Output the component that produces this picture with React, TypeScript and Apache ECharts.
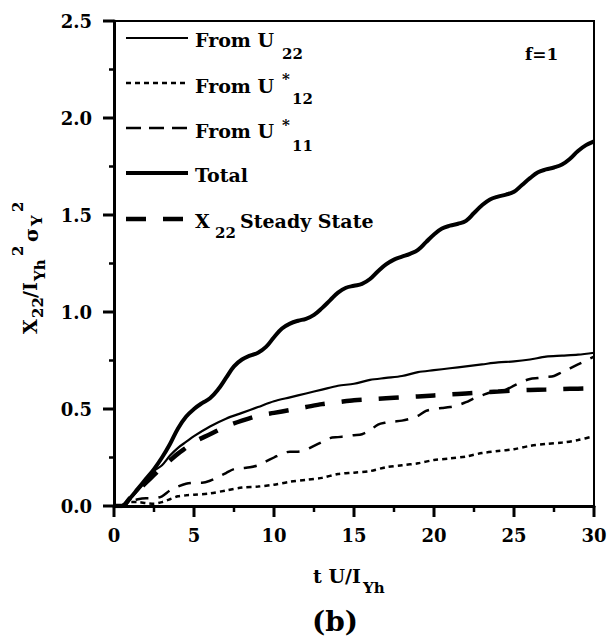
import React, { useEffect, useRef } from "react";
import * as echarts from "echarts";

const tFine = [0,0.5,1,1.5,2,2.5,3,3.5,4,4.5,5,5.5,6,6.5,7,7.5,8,8.5,9,9.5,10,10.5,11,11.5,12,12.5,13,13.5,14,14.5,15,15.5,16,16.5,17,17.5,18,18.5,19,19.5,20,20.5,21,21.5,22,22.5,23,23.5,24,24.5,25,25.5,26,26.5,27,27.5,28,28.5,29,29.5,30];
const tCoarse = [0,0.5,1,1.5,2,2.5,3,3.5,4,4.5,5,6,7,8,9,10,11,12,13,14,15,16,17,18,19,20,21,22,23,24,25,26,27,28,29,30];

const totalVals = [0,0,0.04,0.09,0.14,0.19,0.25,0.32,0.40,0.46,0.50,0.53,0.555,0.60,0.66,0.72,0.755,0.775,0.79,0.82,0.87,0.915,0.94,0.955,0.965,0.985,1.02,1.06,1.10,1.125,1.135,1.145,1.17,1.21,1.245,1.27,1.285,1.30,1.32,1.36,1.40,1.43,1.445,1.455,1.47,1.51,1.55,1.58,1.595,1.605,1.62,1.655,1.69,1.72,1.735,1.745,1.76,1.79,1.83,1.86,1.88];
const u11Vals = [0,0,0.02,0.035,0.04,0.04,0.05,0.08,0.10,0.115,0.12,0.12,0.13,0.15,0.17,0.19,0.195,0.20,0.21,0.23,0.25,0.27,0.28,0.28,0.29,0.31,0.33,0.35,0.355,0.36,0.365,0.37,0.39,0.42,0.43,0.435,0.44,0.45,0.465,0.49,0.50,0.505,0.51,0.52,0.535,0.555,0.57,0.585,0.59,0.60,0.62,0.64,0.655,0.66,0.665,0.67,0.69,0.71,0.73,0.75,0.77];
const u22Vals = [0,0,0.04,0.08,0.13,0.18,0.21,0.26,0.30,0.33,0.36,0.41,0.45,0.48,0.51,0.54,0.56,0.58,0.60,0.62,0.63,0.65,0.66,0.67,0.69,0.70,0.71,0.72,0.73,0.74,0.745,0.755,0.77,0.775,0.78,0.79];
const u12Vals = [0,0.005,0.02,0.02,0.015,0.012,0.02,0.035,0.05,0.055,0.058,0.065,0.08,0.095,0.10,0.11,0.125,0.135,0.145,0.165,0.172,0.18,0.20,0.21,0.22,0.237,0.245,0.255,0.273,0.283,0.293,0.31,0.32,0.327,0.34,0.36];
const steadyVals = [0,0,0.04,0.08,0.12,0.16,0.20,0.235,0.27,0.30,0.33,0.37,0.41,0.44,0.465,0.48,0.495,0.51,0.525,0.535,0.545,0.55,0.555,0.56,0.565,0.57,0.575,0.58,0.585,0.59,0.595,0.598,0.60,0.603,0.605,0.607];

const xTicks = [0, 5, 10, 15, 20, 25, 30];
const xMinorTicks = [2.5, 7.5, 12.5, 17.5, 22.5, 27.5];
const yTicks = [0, 0.5, 1.0, 1.5, 2.0, 2.5];
const yMinorTicks = [0.25, 0.75, 1.25, 1.75, 2.25];

const FONT = "DejaVu Serif";
const GRID = { left: 114, right: 22, top: 21, bottom: 135 };
const W = 616;
const H = 641;
const X_MIN = 0, X_MAX = 30, Y_MIN = 0, Y_MAX = 2.5;

function pairs(t: number[], v: number[]) {
  return t.map((x, i) => [x, v[i]]);
}

function txt(text: string, x: number, y: number, size: number) {
  return {
    type: "text",
    x,
    y,
    style: {
      text,
      font: `bold ${size}px "${FONT}"`,
      fill: "#000",
      align: "left",
      verticalAlign: "middle",
    },
  };
}

function rtxt(text: string, x: number, y: number, size: number) {
  return {
    type: "text",
    x,
    y,
    rotation: Math.PI / 2,
    style: {
      text,
      font: `bold ${size}px "${FONT}"`,
      fill: "#000",
      align: "left",
      verticalAlign: "middle",
    },
  };
}

function legLine(y: number, width: number, dash: any) {
  return {
    type: "line",
    shape: { x1: 126, y1: y, x2: 188, y2: y },
    style: { stroke: "#000", lineWidth: width, lineDash: dash },
  };
}

function seg(x1: number, y1: number, x2: number, y2: number, w: number) {
  return { type: "line", z: 10, shape: { x1, y1, x2, y2 }, style: { stroke: "#000", lineWidth: w } };
}

export default function App() {
  const ref = useRef<HTMLDivElement>(null);
  useEffect(() => {
    if (!ref.current) return;
    const chart = echarts.init(ref.current, null, { renderer: "svg" });
    const axisLabel = { color: "#000", fontFamily: FONT, fontWeight: "bold", fontSize: 18 };
    const option: any = {
      animation: false,
      backgroundColor: "#fff",
      grid: { ...GRID, show: true, borderColor: "#000", borderWidth: 2, backgroundColor: "transparent" },
      xAxis: {
        type: "value",
        min: X_MIN,
        max: X_MAX,
        interval: 5,
        axisLine: { show: true, onZero: false, lineStyle: { color: "#000", width: 3 } },
        axisTick: { show: false },
        splitLine: { show: false },
        axisLabel: { ...axisLabel, margin: 20, formatter: (v: number) => (xTicks.includes(v) ? String(v) : "") },
      },
      yAxis: {
        type: "value",
        min: Y_MIN,
        max: Y_MAX,
        interval: 0.5,
        axisLine: { show: true, onZero: false, lineStyle: { color: "#000", width: 3 } },
        axisTick: { show: false },
        splitLine: { show: false },
        axisLabel: { ...axisLabel, margin: 22, formatter: (v: number) => (yTicks.includes(v) ? v.toFixed(1) : "") },
      },
      series: [
        {
          name: "From U22", type: "line", data: pairs(tCoarse, u22Vals), showSymbol: false, smooth: 0.3,
          lineStyle: { color: "#000", width: 2.2 }, z: 3,
        },
        {
          name: "From U*12", type: "line", data: pairs(tCoarse, u12Vals), showSymbol: false, smooth: 0.3,
          lineStyle: { color: "#000", width: 2.5, type: [5, 4] }, z: 3,
        },
        {
          name: "From U*11", type: "line", data: pairs(tFine, u11Vals), showSymbol: false, smooth: 0.3,
          lineStyle: { color: "#000", width: 2.5, type: [13, 10] }, z: 3,
        },
        {
          name: "Total", type: "line", data: pairs(tFine, totalVals), showSymbol: false, smooth: 0.4,
          lineStyle: { color: "#000", width: 4 }, z: 4,
        },
        {
          name: "X22 Steady State", type: "line", data: pairs(tCoarse, steadyVals), showSymbol: false, smooth: 0.3,
          lineStyle: { color: "#000", width: 4.5, type: [20, 17] }, z: 3,
        },
      ],
    };
    chart.setOption(option);

    const plotW = W - GRID.left - GRID.right;
    const plotH = H - GRID.top - GRID.bottom;
    const xPx = (v: number) => {
      const r = chart.convertToPixel({ xAxisIndex: 0 } as any, v) as any;
      return typeof r === "number" && isFinite(r) ? r : GRID.left + ((v - X_MIN) / (X_MAX - X_MIN)) * plotW;
    };
    const yPx = (v: number) => {
      const r = chart.convertToPixel({ yAxisIndex: 0 } as any, v) as any;
      return typeof r === "number" && isFinite(r) ? r : GRID.top + plotH - ((v - Y_MIN) / (Y_MAX - Y_MIN)) * plotH;
    };
    const x0 = xPx(X_MIN);
    const y0 = yPx(Y_MIN);
    const ticks: any[] = [];
    xTicks.forEach((v) => { const x = xPx(v); ticks.push(seg(x, y0, x, y0 + 11, 3)); });
    xMinorTicks.forEach((v) => { const x = xPx(v); ticks.push(seg(x, y0, x, y0 + 6, 2.5)); });
    yTicks.forEach((v) => { const y = yPx(v); ticks.push(seg(x0 - 11, y, x0, y, 3)); });
    yMinorTicks.forEach((v) => { const y = yPx(v); ticks.push(seg(x0 - 5, y, x0, y, 2.5)); });

    chart.setOption({
      graphic: [
        ...ticks,
        legLine(38, 2.2, null),
        legLine(83, 2.5, [5, 4]),
        legLine(128, 2.5, [15, 8]),
        legLine(173, 4, null),
        legLine(219, 4.5, [20, 17]),
        txt("From U", 195, 40, 19),
        txt("22", 282, 54, 15),
        txt("From U", 195, 86, 19),
        txt("*", 282, 79, 15),
        txt("12", 292, 99, 15),
        txt("From U", 195, 131, 19),
        txt("*", 282, 125, 15),
        txt("11", 292, 146, 15),
        txt("Total", 195, 175, 19),
        txt("X", 195, 221, 19),
        txt("22", 215, 233, 15),
        txt("Steady State", 240, 221, 19),
        txt("f=1", 525, 54, 17),
        txt("t U/I", 313, 576, 19),
        txt("Yh", 363, 588, 15),
        txt("(b)", 312, 621, 28),
        rtxt("X", 30, 334, 19),
        rtxt("22", 38, 318, 15),
        rtxt("/I", 30, 298, 19),
        rtxt("Yh", 40, 281, 15),
        rtxt("2", 18, 256, 15),
        rtxt("σ", 31, 242, 19),
        rtxt("Y", 37, 226, 15),
        rtxt("2", 18, 212, 15),
      ],
    });
    return () => chart.dispose();
  }, []);
  return (
    <div
      ref={ref}
      style={{ position: "fixed", left: 0, top: 0, width: 616, height: 641, background: "#fff" }}
    />
  );
}
